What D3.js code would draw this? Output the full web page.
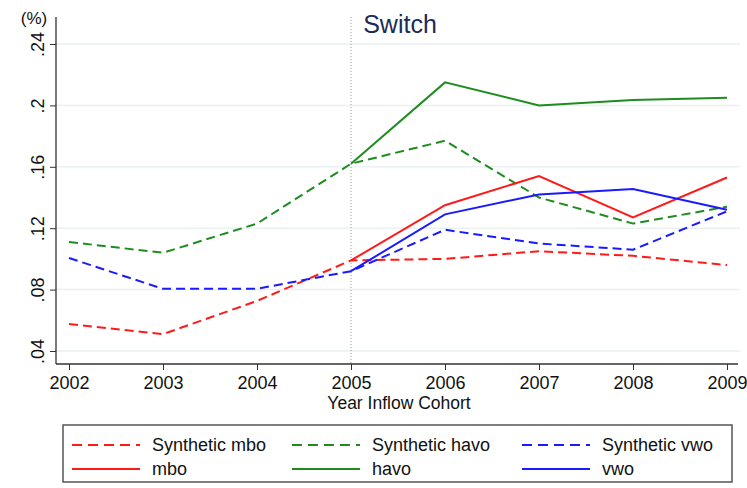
<!DOCTYPE html>
<html>
<head>
<meta charset="utf-8">
<script src="https://cdn.jsdelivr.net/npm/d3@7"></script>
<style>
  body { margin: 0; background: #fff; }
  text { font-family: "Liberation Sans", Arial, sans-serif; }
</style>
</head>
<body>
<div class="chart"></div>
<script>
// years on the x axis
const years = [2002, 2003, 2004, 2005, 2006, 2007, 2008, 2009];
const treatYears = [2005, 2006, 2007, 2008, 2009];

// series values (share switching)
const synthMbo  = [0.0576, 0.051, 0.0726, 0.099, 0.100, 0.105, 0.102, 0.096];
const synthHavo = [0.111, 0.104, 0.123, 0.162, 0.177, 0.140, 0.123, 0.134];
const synthVwo  = [0.1006, 0.0805, 0.0805, 0.092, 0.119, 0.110, 0.106, 0.131];
const mbo  = [0.099, 0.135, 0.154, 0.127, 0.153];
const havo = [0.162, 0.215, 0.200, 0.2035, 0.205];
const vwo  = [0.092, 0.129, 0.142, 0.1455, 0.132];

const yTicks = [0.04, 0.08, 0.12, 0.16, 0.2, 0.24];
const yTickLabels = [".04", ".08", ".12", ".16", ".2", ".24"];

const width = 747, height = 488;

const svg = d3.select(".chart")
  .append("svg")
  .attr("width", width)
  .attr("height", height);

const x = d3.scaleLinear().domain([2002, 2009]).range([69, 727]);
const y = d3.scaleLinear().domain([0.04, 0.24]).range([351, 44]);

const axisLeftX = 56, axisBottomY = 364;

// grid lines
svg.append("g")
  .selectAll("line")
  .data(yTicks)
  .join("line")
    .attr("x1", axisLeftX)
    .attr("x2", 740)
    .attr("y1", d => y(d))
    .attr("y2", d => y(d))
    .style("stroke", "#e9f1f2")
    .style("stroke-width", 1.5);

// dotted line at 2005
svg.append("line")
  .attr("x1", x(2005)).attr("x2", x(2005))
  .attr("y1", 17).attr("y2", axisBottomY)
  .style("stroke", "#999")
  .style("stroke-width", 1)
  .style("stroke-dasharray", "1,2");

// Y axis
const yAxis = svg.append("g")
  .attr("transform", `translate(${axisLeftX},0)`)
  .call(d3.axisLeft(y).tickValues(yTicks).tickSize(6).tickFormat((d, i) => yTickLabels[i]));
yAxis.select(".domain").remove();
yAxis.selectAll(".tick line").style("stroke", "#333");
yAxis.selectAll(".tick text")
  .attr("x", 0).attr("y", 0)
  .attr("dy", null)
  .attr("transform", "translate(-12,0) rotate(-90)")
  .style("text-anchor", "middle")
  .style("font-size", "18px")
  .style("fill", "#111");
svg.append("line")
  .attr("x1", axisLeftX).attr("x2", axisLeftX)
  .attr("y1", 17).attr("y2", axisBottomY)
  .style("stroke", "#333").style("stroke-width", 1.3);

// X axis
const xAxis = svg.append("g")
  .attr("transform", `translate(0,${axisBottomY})`)
  .call(d3.axisBottom(x).tickValues(years).tickSize(6).tickFormat(d3.format("d")));
xAxis.select(".domain").remove();
xAxis.selectAll(".tick line").style("stroke", "#333");
xAxis.selectAll(".tick text")
  .attr("y", 12)
  .style("font-size", "18px")
  .style("fill", "#111");
svg.append("line")
  .attr("x1", axisLeftX).attr("x2", 738)
  .attr("y1", axisBottomY).attr("y2", axisBottomY)
  .style("stroke", "#333").style("stroke-width", 1.3);

// titles
svg.append("text")
  .attr("x", 400).attr("y", 33)
  .attr("text-anchor", "middle")
  .style("font-size", "25px")
  .style("fill", "#1c2c55")
  .text("Switch");

svg.append("text")
  .attr("x", 34).attr("y", 24)
  .attr("text-anchor", "middle")
  .style("font-size", "17px")
  .style("fill", "#111")
  .text("(%)");

svg.append("text")
  .attr("x", 399).attr("y", 409)
  .attr("text-anchor", "middle")
  .style("font-size", "17.5px")
  .style("fill", "#111")
  .text("Year Inflow Cohort");

// lines
const series = [
  { name: "Synthetic mbo",  xs: years, values: synthMbo,  color: "#ff1a1a", dash: "9,5" },
  { name: "Synthetic havo", xs: years, values: synthHavo, color: "#1e8c1e", dash: "9,5" },
  { name: "Synthetic vwo",  xs: years, values: synthVwo,  color: "#1a1aff", dash: "9,5" },
  { name: "mbo",  xs: treatYears, values: mbo,  color: "#ff1a1a", dash: null },
  { name: "havo", xs: treatYears, values: havo, color: "#1e8c1e", dash: null },
  { name: "vwo",  xs: treatYears, values: vwo,  color: "#1a1aff", dash: null }
];

const line = d3.line()
  .x(d => x(d[0]))
  .y(d => y(d[1]));

svg.append("g")
  .selectAll("path")
  .data(series)
  .join("path")
    .attr("d", s => line(s.xs.map((yr, i) => [yr, s.values[i]])))
    .style("fill", "none")
    .style("stroke", s => s.color)
    .style("stroke-width", 2)
    .style("stroke-dasharray", s => s.dash);

// legend
svg.append("rect")
  .attr("x", 63).attr("y", 425)
  .attr("width", 669).attr("height", 57)
  .style("fill", "#fff")
  .style("stroke", "#555")
  .style("stroke-width", 1.5);

const colX = [72, 292, 522];
const rowY = [445, 469];
const legend = svg.append("g")
  .selectAll("g")
  .data(series)
  .join("g")
    .attr("transform", (s, i) => `translate(${colX[i % 3]},${rowY[Math.floor(i / 3)]})`);
legend.append("line")
  .attr("x1", 0).attr("x2", 68)
  .attr("y1", 0).attr("y2", 0)
  .style("stroke", s => s.color)
  .style("stroke-width", 2)
  .style("stroke-dasharray", s => s.dash ? "10,6" : null);
legend.append("text")
  .attr("x", 80).attr("y", 0)
  .attr("dy", "0.35em")
  .style("font-size", "18px")
  .style("fill", "#111")
  .text(s => s.name);
</script>
</body>
</html>
